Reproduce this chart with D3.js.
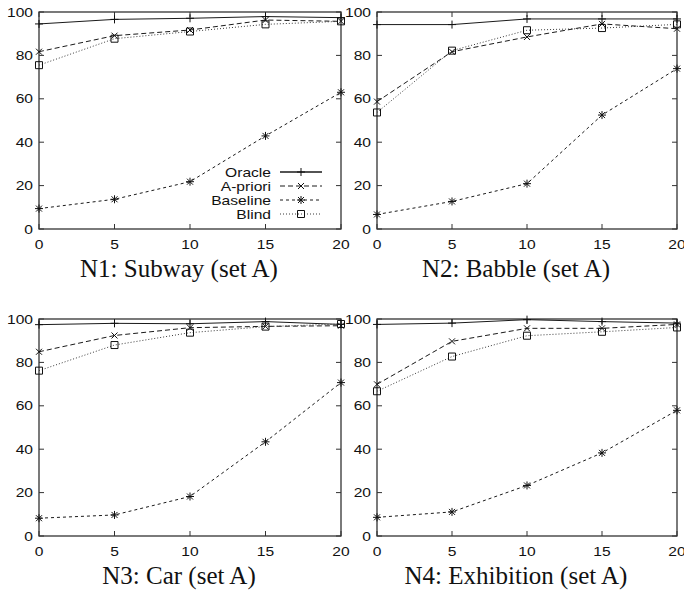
<!DOCTYPE html>
<html>
<head>
<meta charset="utf-8">
<script src="https://cdn.jsdelivr.net/npm/d3@7"></script>
<style>
  body { margin: 0; background: #fff; }
  svg { display: block; }
</style>
</head>
<body>
<script>
// SNR curves, four noise types, set A
var snr = [0, 5, 10, 15, 20];
var xTicks = [0, 5, 10, 15, 20];
var yTicks = [0, 20, 40, 60, 80, 100];
var titles = ['N1: Subway (set A)', 'N2: Babble (set A)', 'N3: Car (set A)', 'N4: Exhibition (set A)'];
var seriesNames = ['Oracle', 'A-priori', 'Baseline', 'Blind'];

// one row per panel (N1..N4)
var oracle = [
  [94.5, 96.6, 97.1, 97.9, 97.4],
  [94.2, 94.2, 96.8, 96.8, 96.8],
  [97.4, 98.0, 97.8, 98.8, 97.5],
  [97.5, 98.1, 99.7, 98.8, 98.1]
];
var apriori = [
  [81.7, 89.1, 91.7, 96.3, 95.7],
  [58.7, 81.7, 88.5, 94.5, 92.3],
  [84.9, 92.4, 96.0, 96.6, 96.9],
  [69.9, 89.7, 95.7, 95.7, 97.5]
];
var baseline = [
  [9.4, 13.7, 21.8, 42.9, 63.0],
  [6.7, 12.7, 20.9, 52.5, 73.9],
  [8.2, 9.7, 18.2, 43.4, 70.7],
  [8.6, 11.1, 23.3, 38.3, 57.9]
];
var blind = [
  [75.5, 87.7, 91.0, 94.3, 95.7],
  [53.7, 82.2, 91.6, 92.6, 94.3],
  [76.2, 88.0, 93.7, 96.5, 97.7],
  [66.7, 82.7, 92.3, 94.1, 96.1]
];

var W = 684, H = 592;
var svg = d3.select('body').append('svg').attr('width', W).attr('height', H);

var boxes = [
  {l: 39, r: 341, t: 12, b: 229},
  {l: 377, r: 677, t: 12, b: 229},
  {l: 39, r: 341, t: 319, b: 536},
  {l: 377, r: 677, t: 319, b: 536}
];

var styles = [
  {dash: null, color: '#1a1a1a', mark: 'plus'},
  {dash: '5,3', color: '#1a1a1a', mark: 'cross'},
  {dash: '3,3', color: '#1a1a1a', mark: 'star'},
  {dash: '1,2', color: '#3a3a3a', mark: 'square'}
];

function markPath(kind, x, y) {
  var s = 4, c = 3;
  if (kind == 'plus') return 'M' + (x - s) + ',' + y + 'H' + (x + s) + 'M' + x + ',' + (y - s) + 'V' + (y + s);
  if (kind == 'cross') return 'M' + (x - c) + ',' + (y - c) + 'L' + (x + c) + ',' + (y + c) + 'M' + (x - c) + ',' + (y + c) + 'L' + (x + c) + ',' + (y - c);
  if (kind == 'star') return markPath('plus', x, y) + markPath('cross', x, y);
  return 'M' + (x - 3.5) + ',' + (y - 3.5) + 'h7v7h-7z';
}

function label(g, x, y, txt, anchor) {
  return g.append('text')
    .attr('transform', 'translate(' + x + ',' + y + ') scale(1.2,1)')
    .attr('text-anchor', anchor)
    .attr('font-family', 'Liberation Sans, Arial, sans-serif')
    .attr('font-size', 13)
    .attr('fill', '#111')
    .text(txt);
}

boxes.forEach(function (bx, p) {
  var g = svg.append('g');
  var x = d3.scaleLinear().domain([0, 20]).range([bx.l, bx.r]);
  var y = d3.scaleLinear().domain([0, 100]).range([bx.b, bx.t]);

  // ticks inside, mirrored
  xTicks.forEach(function (t) {
    g.append('line').attr('x1', x(t)).attr('x2', x(t)).attr('y1', bx.b).attr('y2', bx.b - 5)
      .attr('stroke', '#333');
    g.append('line').attr('x1', x(t)).attr('x2', x(t)).attr('y1', bx.t).attr('y2', bx.t + 5)
      .attr('stroke', '#333');
    label(g, x(t), bx.b + 20, t, 'middle');
  });
  yTicks.forEach(function (t) {
    g.append('line').attr('x1', bx.l).attr('x2', bx.l + 5).attr('y1', y(t)).attr('y2', y(t))
      .attr('stroke', '#333');
    g.append('line').attr('x1', bx.r).attr('x2', bx.r - 5).attr('y1', y(t)).attr('y2', y(t))
      .attr('stroke', '#333');
    label(g, bx.l - 6, y(t) + 4.5, t, 'end');
  });

  g.append('rect').attr('x', bx.l).attr('y', bx.t)
    .attr('width', bx.r - bx.l).attr('height', bx.b - bx.t)
    .attr('fill', 'none').attr('stroke', '#333').attr('stroke-width', 1.3);

  var all = [oracle[p], apriori[p], baseline[p], blind[p]];
  var line = d3.line().x(function (d, i) { return x(snr[i]); }).y(function (d) { return y(d); });

  all.forEach(function (vals, k) {
    var st = styles[k];
    g.append('path').attr('d', line(vals))
      .attr('fill', 'none').attr('stroke', st.color).attr('stroke-width', 1)
      .attr('stroke-dasharray', st.dash);
    g.selectAll(null).data(vals).enter().append('path')
      .attr('d', function (d, i) { return markPath(st.mark, x(snr[i]), y(d)); })
      .attr('fill', 'none').attr('stroke', '#111').attr('stroke-width', 1);
  });

  g.append('text')
    .attr('x', (bx.l + bx.r) / 2 - 11)
    .attr('y', bx.b + 48)
    .attr('text-anchor', 'middle')
    .attr('font-family', 'Liberation Serif, Times New Roman, serif')
    .attr('font-size', 25)
    .attr('fill', '#111')
    .text(titles[p]);

  // legend only on first panel
  if (p == 0) {
    seriesNames.forEach(function (name, k) {
      var ly = 172 + k * 14;
      var st = styles[k];
      label(g, 271, ly + 4.5, name, 'end');
      g.append('line').attr('x1', 280).attr('x2', 322).attr('y1', ly).attr('y2', ly)
        .attr('stroke', st.color).attr('stroke-width', k == 0 ? 1.5 : 1)
        .attr('stroke-dasharray', st.dash);
      g.append('path').attr('d', markPath(st.mark, 301, ly))
        .attr('fill', 'none').attr('stroke', '#111');
    });
  }
});
</script>
</body>
</html>
